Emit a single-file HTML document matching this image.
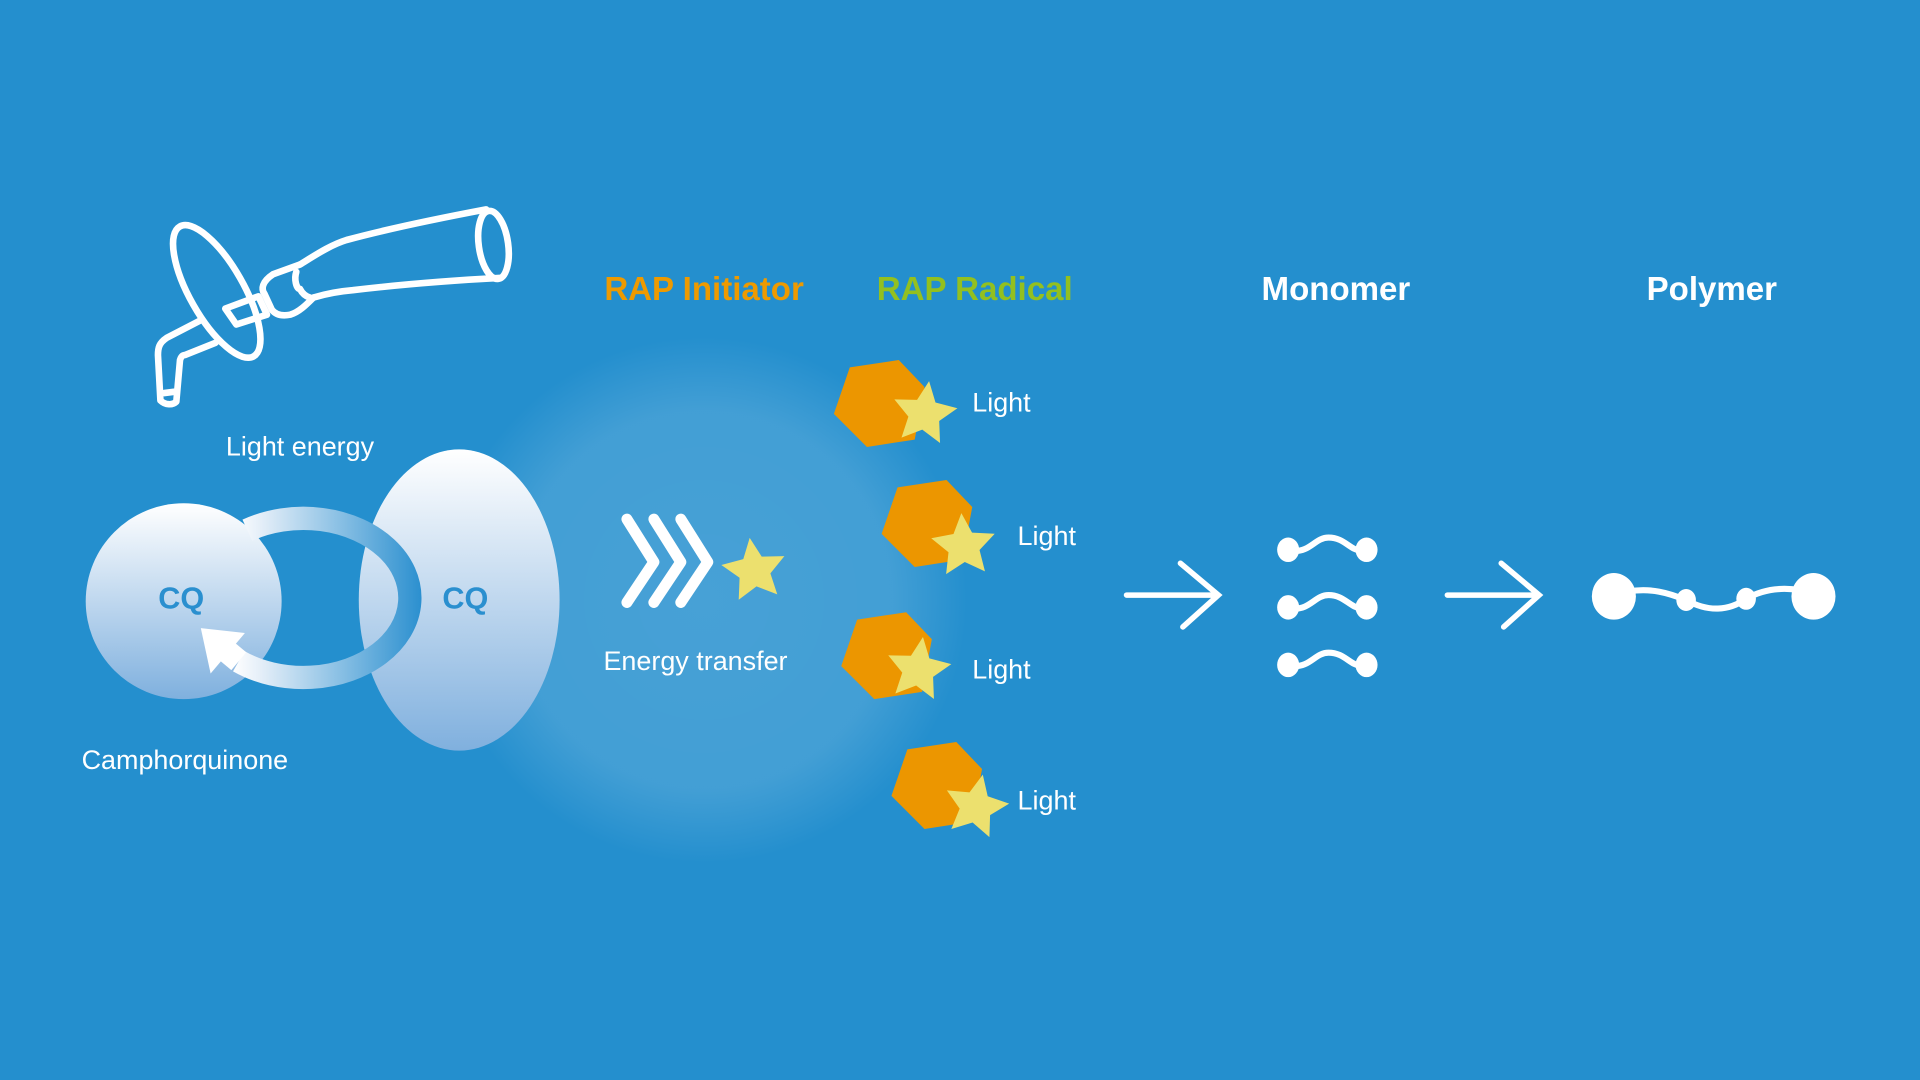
<!DOCTYPE html>
<html><head><meta charset="utf-8"><style>
html,body{margin:0;padding:0;background:#248fce;}
svg{display:block}
text{font-family:"Liberation Sans",sans-serif;}
</style></head><body>
<svg width="1920" height="1080" viewBox="0 0 1568 882" xmlns="http://www.w3.org/2000/svg">
<defs>
<radialGradient id="glow" cx="575" cy="490" r="215" gradientUnits="userSpaceOnUse">
<stop offset="0" stop-color="#ffffff" stop-opacity="0.16"/>
<stop offset="0.72" stop-color="#ffffff" stop-opacity="0.14"/>
<stop offset="1" stop-color="#ffffff" stop-opacity="0"/>
</radialGradient>
<linearGradient id="cq1" x1="0" y1="411" x2="0" y2="571" gradientUnits="userSpaceOnUse">
<stop offset="0" stop-color="#ffffff"/><stop offset="1" stop-color="#7fb0de"/></linearGradient>
<linearGradient id="cq2" x1="0" y1="367" x2="0" y2="613" gradientUnits="userSpaceOnUse">
<stop offset="0" stop-color="#ffffff"/><stop offset="1" stop-color="#80b0de"/></linearGradient>
<linearGradient id="ring" x1="190" y1="0" x2="345" y2="0" gradientUnits="userSpaceOnUse">
<stop offset="0" stop-color="#ffffff"/><stop offset="0.15" stop-color="#e4eef8"/><stop offset="1" stop-color="#2a8fcf"/></linearGradient>
</defs>
<rect width="1568" height="882" fill="#248fce"/>
<ellipse cx="575" cy="490" rx="215" ry="215" fill="url(#glow)"/>

<!-- light device -->
<g fill="none" stroke="#fff" stroke-width="5.4" stroke-linecap="round" stroke-linejoin="round">
<ellipse cx="403" cy="200" rx="12" ry="28" transform="rotate(-8 403 200)"/>
<path d="M245,216 C258,208 270,200 283,196 C320,186 360,178 397,171"/>
<path d="M256,243 C266,240 276,238 288,237 C330,232 370,229 408,227"/>
<path d="M245,216 L223,224 C214,230 213,236 216,240 L222,253 C226,258 232,258 237,257 C244,255 250,249 256,243"/>
<path d="M242,222 C240,228 242,236 245,236 C247,240 250,242 253,243"/>
<path d="M184,252 L211,242 L218,257 L193,265 Z"/>
<ellipse cx="177" cy="238" rx="22" ry="61" transform="rotate(-29.6 177 238)"/>
<path d="M165,261 L136,276 C130,280 129,284 129,290 L131,327 C135,331 141,331 144,328 L147,294 C148,291 149,290 151,290 L176,280"/>
<path d="M134,321 L142,320"/>
</g>
<text x="245" y="372" font-size="22" fill="#fff" text-anchor="middle">Light energy</text>

<!-- CQ -->
<circle cx="150" cy="491" r="80" fill="url(#cq1)"/>
<ellipse cx="375" cy="490" rx="82" ry="123" fill="url(#cq2)"/>
<path d="M202,433 A87,65 0 1 1 195,540" fill="none" stroke="url(#ring)" stroke-width="19"/>
<path d="M195,540 L183,530" stroke="#fff" stroke-width="19"/>
<polygon points="164,513 200,517 172,550" fill="#fff"/>
<text x="148" y="497" font-size="25" font-weight="bold" fill="#2a8fcf" text-anchor="middle">CQ</text>
<text x="380" y="497" font-size="25" font-weight="bold" fill="#2a8fcf" text-anchor="middle">CQ</text>
<text x="151" y="628" font-size="22" fill="#fff" text-anchor="middle">Camphorquinone</text>

<!-- headers -->
<text x="575" y="245" font-size="27" font-weight="bold" fill="#ee9a00" text-anchor="middle">RAP Initiator</text>
<text x="796" y="245" font-size="27" font-weight="bold" fill="#93c01f" text-anchor="middle">RAP Radical</text>
<text x="1091" y="245" font-size="27" font-weight="bold" fill="#fff" text-anchor="middle">Monomer</text>
<text x="1398" y="245" font-size="27" font-weight="bold" fill="#fff" text-anchor="middle">Polymer</text>

<!-- chevrons -->
<g fill="none" stroke="#fff" stroke-width="9" stroke-linecap="round" stroke-linejoin="round">
<path d="M512,424 L534,459 L512,492"/>
<path d="M534,424 L556,459 L534,492"/>
<path d="M556,424 L578,459 L556,492"/>
</g>
<polygon points="0,-27 7.6,-10.5 26,-8.3 12.7,4.1 15.9,21.8 0,13 -15.9,21.8 -12.7,4.1 -26,-8.3 -7.6,-10.5" fill="#ece06e" transform="translate(616,466) rotate(-8)"/>
<text x="568" y="547" font-size="22" fill="#fff" text-anchor="middle">Energy transfer</text>

<!-- hexes -->
<g fill="#ec9600">
<polygon points="-24,-30 16,-36 37,-14 29,29 -10,35 -37,8" transform="translate(718,330)"/>
<polygon points="-24,-30 16,-36 37,-14 29,29 -10,35 -37,8" transform="translate(757,428)"/>
<polygon points="-24,-30 16,-36 37,-14 29,29 -10,35 -37,8" transform="translate(724,536)"/>
<polygon points="-24,-30 16,-36 37,-14 29,29 -10,35 -37,8" transform="translate(765,642)"/>
</g>
<g fill="#ece06e">
<polygon points="0,-27 7.6,-10.5 26,-8.3 12.7,4.1 15.9,21.8 0,13 -15.9,21.8 -12.7,4.1 -26,-8.3 -7.6,-10.5" transform="translate(755,338) rotate(8)"/>
<polygon points="0,-27 7.6,-10.5 26,-8.3 12.7,4.1 15.9,21.8 0,13 -15.9,21.8 -12.7,4.1 -26,-8.3 -7.6,-10.5" transform="translate(787,446) rotate(-4)"/>
<polygon points="0,-27 7.6,-10.5 26,-8.3 12.7,4.1 15.9,21.8 0,13 -15.9,21.8 -12.7,4.1 -26,-8.3 -7.6,-10.5" transform="translate(750,547) rotate(8)"/>
<polygon points="0,-27 7.6,-10.5 26,-8.3 12.7,4.1 15.9,21.8 0,13 -15.9,21.8 -12.7,4.1 -26,-8.3 -7.6,-10.5" transform="translate(797,659) rotate(12)"/>
</g>
<g font-size="22" fill="#fff">
<text x="794" y="336">Light</text>
<text x="831" y="445">Light</text>
<text x="794" y="554">Light</text>
<text x="831" y="661">Light</text>
</g>

<!-- arrows -->
<g fill="none" stroke="#fff" stroke-width="4.5" stroke-linecap="round" stroke-linejoin="miter">
<path d="M920,486 L995,486 M964,460 L995,486 L966,512"/>
<path d="M1182,486 L1257,486 M1226,460 L1257,486 L1228,512"/>
</g>

<!-- monomers -->
<g fill="#fff">
<ellipse cx="1052" cy="449" rx="9" ry="10"/><ellipse cx="1116" cy="449" rx="9" ry="10"/>
<ellipse cx="1052" cy="496" rx="9" ry="10"/><ellipse cx="1116" cy="496" rx="9" ry="10"/>
<ellipse cx="1052" cy="543" rx="9" ry="10"/><ellipse cx="1116" cy="543" rx="9" ry="10"/>
</g>
<g fill="none" stroke="#fff" stroke-width="5">
<path d="M1056,450 C1070,451 1074,439 1085,439 C1098,439 1102,449 1112,450"/>
<path d="M1056,497 C1070,498 1074,486 1085,486 C1098,486 1102,496 1112,497"/>
<path d="M1056,544 C1070,545 1074,533 1085,533 C1098,533 1102,543 1112,544"/>
</g>

<!-- polymer -->
<g fill="#fff">
<ellipse cx="1318" cy="487" rx="18" ry="19"/>
<ellipse cx="1481" cy="487" rx="18" ry="19"/>
<ellipse cx="1377" cy="490" rx="8" ry="9"/>
<ellipse cx="1426" cy="489" rx="8" ry="9"/>
</g>
<g fill="none" stroke="#fff" stroke-width="5">
<path d="M1330,483 C1348,480 1362,484 1377,490"/>
<path d="M1377,490 C1395,500 1412,499 1426,489"/>
<path d="M1426,489 C1442,480 1458,480 1470,482"/>
</g>
</svg>
</body></html>
